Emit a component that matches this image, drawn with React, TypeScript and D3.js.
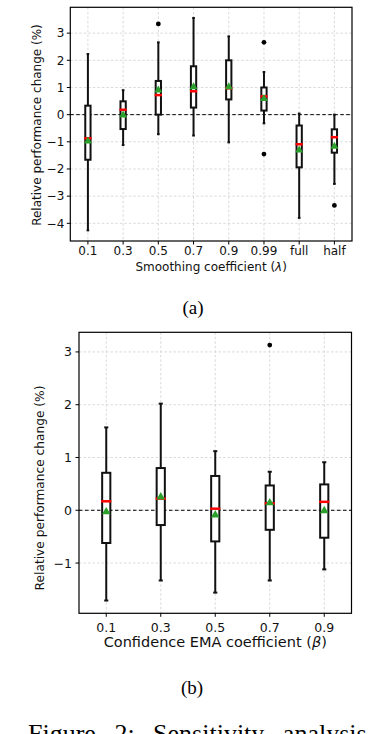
import * as d3 from 'd3'
import { useEffect, useRef } from 'react'

// (a) smoothing coefficient
const lambdaLabels = ['0.1', '0.3', '0.5', '0.7', '0.9', '0.99', 'full', 'half']
const lambdaLow = [-4.26, -1.12, -0.72, -0.77, -1.02, -0.32, -3.80, -2.55]
const lambdaQ1 = [-1.66, -0.53, 0.0, 0.26, 0.56, 0.15, -1.94, -1.40]
const lambdaMed = [-0.87, 0.18, 0.72, 0.86, 0.97, 0.67, -1.09, -0.83]
const lambdaQ3 = [0.33, 0.49, 1.24, 1.78, 2.0, 1.0, -0.40, -0.54]
const lambdaHigh = [2.23, 0.9, 2.66, 3.56, 2.88, 1.57, 0.04, 0.0]
const lambdaMean = [-0.98, -0.02, 0.9, 1.02, 1.02, 0.59, -1.31, -1.17]
const lambdaOut = [[], [], [3.34], [], [], [2.66, -1.45], [], [-3.34]]
const lambdaTicks = [-4, -3, -2, -1, 0, 1, 2, 3]

// (b) confidence EMA coefficient
const betaLabels = ['0.1', '0.3', '0.5', '0.7', '0.9']
const betaLow = [-1.71, -1.33, -1.56, -1.33, -1.12]
const betaQ1 = [-0.62, -0.28, -0.59, -0.37, -0.52]
const betaMed = [0.17, 0.22, 0.03, 0.13, 0.16]
const betaQ3 = [0.71, 0.8, 0.65, 0.47, 0.49]
const betaHigh = [1.57, 2.02, 1.12, 0.73, 0.91]
const betaMean = [-0.03, 0.25, -0.09, 0.14, -0.01]
const betaOut = [[], [], [], [3.13], []]
const betaTicks = [-1, 0, 1, 2, 3]

function drawBox(svg, o) {
  const g = svg.append('g').attr('font-family', 'DejaVu Sans, sans-serif').attr('fill', '#111')
  const n = o.labels.length
  const all = o.low.concat(o.high, ...o.out)
  const lo = d3.min(all), hi = d3.max(all)
  const pad = (hi - lo) * 0.05
  const y = d3.scaleLinear().domain([lo - pad, hi + pad]).range([o.bottom, o.top])
  const x = d3.scaleLinear().domain([0.5, n + 0.5]).range([o.left, o.right])
  const idx = d3.range(n)
  const bw = (x(1.15) - x(1))

  // grid
  g.selectAll('.gx').data(idx).join('line')
    .attr('x1', i => x(i + 1)).attr('x2', i => x(i + 1))
    .attr('y1', o.top).attr('y2', o.bottom)
    .attr('stroke', '#d0d0d0').attr('stroke-width', 0.8).attr('stroke-dasharray', '2.5,2')
  g.selectAll('.gy').data(o.ticks).join('line')
    .attr('x1', o.left).attr('x2', o.right)
    .attr('y1', d => y(d)).attr('y2', d => y(d))
    .attr('stroke', '#d0d0d0').attr('stroke-width', 0.8).attr('stroke-dasharray', '2.5,2')

  // zero line
  g.append('line').attr('x1', o.left).attr('x2', o.right)
    .attr('y1', y(0)).attr('y2', y(0))
    .attr('stroke', '#000').attr('stroke-width', 1).attr('stroke-dasharray', '3.5,2.5')

  // whiskers
  g.selectAll('.wl').data(idx).join('line')
    .attr('x1', i => x(i + 1)).attr('x2', i => x(i + 1))
    .attr('y1', i => y(o.low[i])).attr('y2', i => y(o.q1[i]))
    .attr('stroke', '#111').attr('stroke-width', 2)
  g.selectAll('.wh').data(idx).join('line')
    .attr('x1', i => x(i + 1)).attr('x2', i => x(i + 1))
    .attr('y1', i => y(o.high[i])).attr('y2', i => y(o.q3[i]))
    .attr('stroke', '#111').attr('stroke-width', 2)
  // caps
  g.selectAll('.cl').data(idx).join('line')
    .attr('x1', i => x(i + 1) - bw / 4).attr('x2', i => x(i + 1) + bw / 4)
    .attr('y1', i => y(o.low[i])).attr('y2', i => y(o.low[i]))
    .attr('stroke', '#111').attr('stroke-width', 2)
  g.selectAll('.ch').data(idx).join('line')
    .attr('x1', i => x(i + 1) - bw / 4).attr('x2', i => x(i + 1) + bw / 4)
    .attr('y1', i => y(o.high[i])).attr('y2', i => y(o.high[i]))
    .attr('stroke', '#111').attr('stroke-width', 2)
  // boxes
  g.selectAll('.bx').data(idx).join('rect')
    .attr('x', i => x(i + 1) - bw / 2).attr('width', bw)
    .attr('y', i => y(o.q3[i])).attr('height', i => y(o.q1[i]) - y(o.q3[i]))
    .attr('fill', 'white').attr('stroke', '#111').attr('stroke-width', 2)
  // medians
  g.selectAll('.md').data(idx).join('line')
    .attr('x1', i => x(i + 1) - bw / 2 - 1).attr('x2', i => x(i + 1) + bw / 2 + 1)
    .attr('y1', i => y(o.med[i])).attr('y2', i => y(o.med[i]))
    .attr('stroke', '#ff0000').attr('stroke-width', 2.5)
  // means
  g.selectAll('.mn').data(idx).join('path')
    .attr('d', d3.symbol().type(d3.symbolTriangle).size(o.tri))
    .attr('transform', i => `translate(${x(i + 1)},${y(o.mean[i])})`)
    .attr('fill', '#2ca02c')
  // outliers
  const outs = idx.flatMap(i => o.out[i].map(v => [i, v]))
  g.selectAll('.ol').data(outs).join('circle')
    .attr('cx', d => x(d[0] + 1)).attr('cy', d => y(d[1])).attr('r', 2.4)
    .attr('fill', '#000')

  // frame
  g.append('rect').attr('x', o.left).attr('y', o.top)
    .attr('width', o.right - o.left).attr('height', o.bottom - o.top)
    .attr('fill', 'none').attr('stroke', '#000').attr('stroke-width', 1.2)

  // ticks
  g.selectAll('.ty').data(o.ticks).join('line')
    .attr('x1', o.left - 3.5).attr('x2', o.left)
    .attr('y1', d => y(d)).attr('y2', d => y(d)).attr('stroke', '#000').attr('stroke-width', 1)
  g.selectAll('.tyl').data(o.ticks).join('text')
    .attr('x', o.left - o.tyGap).attr('y', d => y(d)).attr('dy', '0.36em')
    .attr('text-anchor', 'end').attr('font-size', o.fs)
    .text(d => d < 0 ? '\u2212' + Math.abs(d) : String(d))
  g.selectAll('.tx').data(idx).join('line')
    .attr('x1', i => x(i + 1)).attr('x2', i => x(i + 1))
    .attr('y1', o.bottom).attr('y2', o.bottom + 3.5).attr('stroke', '#000').attr('stroke-width', 1)
  g.selectAll('.txl').data(idx).join('text')
    .attr('x', i => x(i + 1)).attr('y', o.txY).attr('dy', '0.36em')
    .attr('text-anchor', 'middle').attr('font-size', o.fs)
    .text(i => o.labels[i])

  // axis labels
  const xl = g.append('text').attr('x', (o.left + o.right) / 2).attr('y', o.xlY).attr('dy', '0.36em')
    .attr('text-anchor', 'middle').attr('font-size', o.xfs)
  xl.append('tspan').text(o.xlabel + ' (')
  xl.append('tspan').attr('font-style', 'italic').text(o.sym)
  xl.append('tspan').text(')')
  g.append('text').attr('transform', `translate(${o.ylX},${o.ylY}) rotate(-90)`)
    .attr('dy', '0.36em')
    .attr('text-anchor', 'middle').attr('font-size', o.yfs)
    .text('Relative performance change (%)')
}

export default function App() {
  const ref = useRef(null)
  useEffect(() => {
    const svg = d3.select(ref.current)
    svg.selectAll('*').remove()
    drawBox(svg, {
      labels: lambdaLabels, low: lambdaLow, q1: lambdaQ1, med: lambdaMed, q3: lambdaQ3,
      high: lambdaHigh, mean: lambdaMean, out: lambdaOut, ticks: lambdaTicks,
      left: 70.3, right: 352, top: 7.3, bottom: 241, fs: 12, xfs: 12, yfs: 12, tri: 28,
      tyGap: 6, txY: 251, xlabel: 'Smoothing coefficient', sym: '\u03bb', xlY: 267, ylX: 37, ylY: 125,
    })
    drawBox(svg, {
      labels: betaLabels, low: betaLow, q1: betaQ1, med: betaMed, q3: betaQ3,
      high: betaHigh, mean: betaMean, out: betaOut, ticks: betaTicks,
      left: 79, right: 351.5, top: 332.3, bottom: 613.3, fs: 12.5, xfs: 14.5, yfs: 12.2, tri: 32,
      tyGap: 7, txY: 627, xlabel: 'Confidence EMA coefficient', sym: '\u03b2', xlY: 642, ylX: 40, ylY: 488,
    })
    svg.append('text').attr('x', 193).attr('y', 314).attr('text-anchor', 'middle')
      .attr('font-family', 'Liberation Serif, serif').attr('font-size', 19).text('(a)')
    svg.append('text').attr('x', 192).attr('y', 694).attr('text-anchor', 'middle')
      .attr('font-family', 'Liberation Serif, serif').attr('font-size', 19).text('(b)')
    svg.append('text').attr('x', 28).attr('y', 742)
      .attr('font-family', 'Liberation Serif, serif').attr('font-size', 26)
      .attr('word-spacing', 12).text('Figure 2:  Sensitivity analysis')
  }, [])
  return (
    <svg ref={ref} width={388} height={734}
      style={{ position: 'absolute', left: 0, top: 0, background: 'white' }} />
  )
}
